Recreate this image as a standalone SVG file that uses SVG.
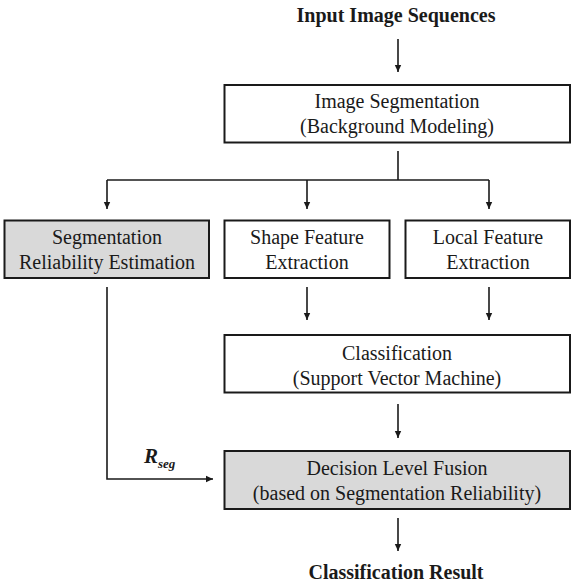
<svg xmlns="http://www.w3.org/2000/svg" width="572" height="585" viewBox="0 0 572 585">
<style>
.box{fill:#ffffff;stroke:#1a1a1a;stroke-width:2}
.gray{fill:#d9d9d9}
.t{font-size:20px;fill:#1a1a1a;text-anchor:middle}
.b{font-weight:bold}
.c{fill:none;stroke:#1a1a1a;stroke-width:1.6}
</style>
<defs>
<marker id="ah" markerWidth="8" markerHeight="8" refX="7" refY="4" orient="auto" markerUnits="userSpaceOnUse">
<path d="M0,0.8 L7,4 L0,7.2 Z" fill="#1a1a1a"/>
</marker>
</defs>
<rect width="572" height="585" fill="#ffffff"/>
<g font-family="Liberation Serif, Times New Roman, serif">
<g id="input"><text class="t b" x="396" y="22">Input Image Sequences</text></g>
<g id="segmentation"><rect class="box" x="224.5" y="85" width="345.5" height="57.5"/>
<text class="t" x="397" y="108">Image Segmentation</text>
<text class="t" x="397" y="133">(Background Modeling)</text></g>
<g id="reliability"><rect class="box gray" x="4.5" y="220.5" width="204.5" height="57.5"/>
<text class="t" x="107" y="244">Segmentation</text>
<text class="t" x="107" y="269">Reliability Estimation</text></g>
<g id="shape"><rect class="box" x="224.5" y="220.5" width="165" height="57.5"/>
<text class="t" x="307" y="244">Shape Feature</text>
<text class="t" x="307" y="269">Extraction</text></g>
<g id="local"><rect class="box" x="405.5" y="220.5" width="164.5" height="57.5"/>
<text class="t" x="488" y="244">Local Feature</text>
<text class="t" x="488" y="269">Extraction</text></g>
<g id="classification"><rect class="box" x="224.5" y="335" width="345.5" height="57.5"/>
<text class="t" x="397" y="360">Classification</text>
<text class="t" x="397" y="385">(Support Vector Machine)</text></g>
<g id="fusion"><rect class="box gray" x="224.5" y="451" width="345.5" height="58"/>
<text class="t" x="397" y="475">Decision Level Fusion</text>
<text class="t" x="397" y="500">(based on Segmentation Reliability)</text></g>
<g id="result"><text class="t b" x="396" y="579">Classification Result</text></g>
<g id="connectors">
<line class="c" x1="398" y1="39" x2="398" y2="72" marker-end="url(#ah)"/>
<line class="c" x1="398" y1="151" x2="398" y2="180"/>
<line class="c" x1="107" y1="180" x2="489" y2="180"/>
<line class="c" x1="107" y1="180" x2="107" y2="209" marker-end="url(#ah)"/>
<line class="c" x1="307" y1="180" x2="307" y2="209" marker-end="url(#ah)"/>
<line class="c" x1="489" y1="180" x2="489" y2="209" marker-end="url(#ah)"/>
<line class="c" x1="307" y1="287" x2="307" y2="320" marker-end="url(#ah)"/>
<line class="c" x1="489" y1="287" x2="489" y2="320" marker-end="url(#ah)"/>
<polyline class="c" points="107,287 107,479 213,479" marker-end="url(#ah)"/>
<line class="c" x1="398" y1="404" x2="398" y2="438" marker-end="url(#ah)"/>
<line class="c" x1="398" y1="518" x2="398" y2="551" marker-end="url(#ah)"/>
<text font-weight="bold" font-style="italic" fill="#1a1a1a" x="144" y="463" font-size="21">R<tspan font-size="13" dy="5">seg</tspan></text>
</g>
</g>
</svg>
